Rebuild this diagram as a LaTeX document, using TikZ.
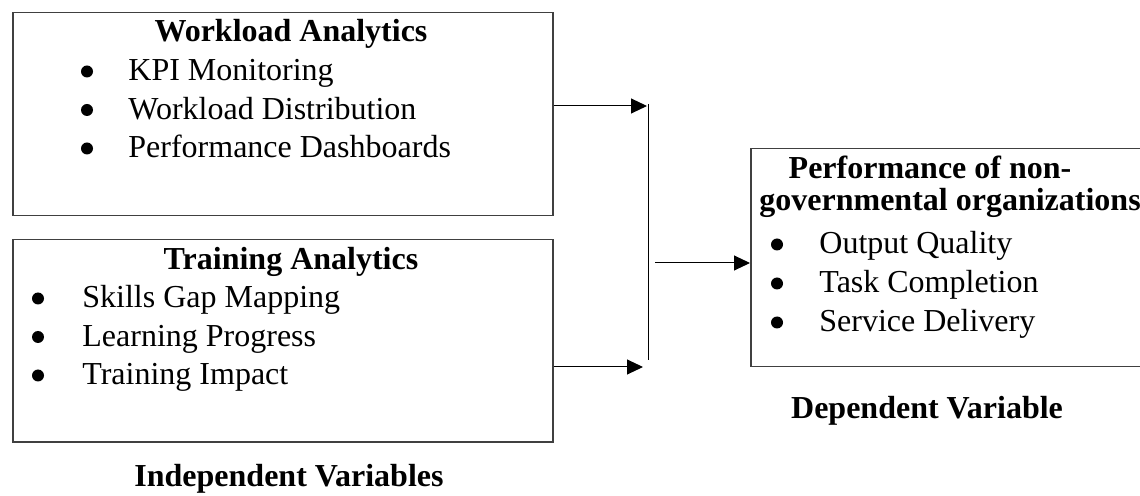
\documentclass[tikz,border=0pt]{standalone}
\usepackage{fontspec}
\setmainfont{Liberation Serif}
\usetikzlibrary{arrows.meta}
\begin{document}
\begin{tikzpicture}[x=0.5pt,y=-0.5pt,
  box/.style={draw=black!75, line width=0.75pt, rectangle, anchor=north west, inner sep=0pt},
  head/.style={font=\fontsize{16}{19}\selectfont\bfseries, anchor=base, inner sep=0pt},
  item/.style={font=\fontsize{16}{19}\selectfont, anchor=base west, inner sep=0pt},
  conn/.style={line width=0.5pt},
  arr/.style={conn, -{Triangle[length=8pt,width=7.5pt]}}]
\useasboundingbox (0,0) rectangle (1140,496);
\clip (0,0) rectangle (1140,496);

% independent variable boxes
\node[box, minimum width=270pt, minimum height=101.5pt] (wl) at (12,12) {};
\node[box, minimum width=270pt, minimum height=101pt] (tr) at (12,239) {};
% dependent variable box (runs past the right edge)
\node[box, minimum width=220pt, minimum height=109pt] (pf) at (750,148) {};

% workload analytics
\node[head] (wlh) at (291,42) {Workload Analytics};
\node[item] (wl1) at (128,81) {KPI Monitoring};
\node[item] (wl2) at (128,119.5) {Workload Distribution};
\node[item] (wl3) at (128,158) {Performance Dashboards};

% training analytics
\node[head] (trh) at (291,270) {Training Analytics};
\node[item] (tr1) at (82,308) {Skills Gap Mapping};
\node[item] (tr2) at (82,346.5) {Learning Progress};
\node[item] (tr3) at (82,385) {Training Impact};

% performance of NGOs
\node[head] (pfh1) at (930,179) {Performance of non-};
\node[head, anchor=base west] (pfh2) at (759,211) {governmental organizations};
\node[item] (pf1) at (819,254) {Output Quality};
\node[item] (pf2) at (819,293) {Task Completion};
\node[item] (pf3) at (819,332) {Service Delivery};

% list bullets, hung to the left of each item
\foreach \it/\dx in {wl1/41,wl2/41,wl3/41,tr1/44,tr2/44,tr3/44,pf1/42,pf2/42,pf3/42}
  \fill ([shift={(-\dx,-9.5)}]\it.base west) circle (6);

% group labels
\node[head] (iv) at (289,487) {Independent Variables};
\node[head] (dv) at (927,418) {Dependent Variable};

% connectors
\coordinate (bt) at (648,104);
\coordinate (bb) at (648,360);
\coordinate (t1) at (647,106);
\coordinate (t2) at (643,367);
\coordinate (s) at (655,263);
\draw[conn] (bt) -- (bb);
\draw[arr] (wl.east |- t1) -- (t1);
\draw[arr] (tr.east |- t2) -- (t2);
\draw[arr] (s) -- (pf.west |- s);
\end{tikzpicture}
\end{document}
